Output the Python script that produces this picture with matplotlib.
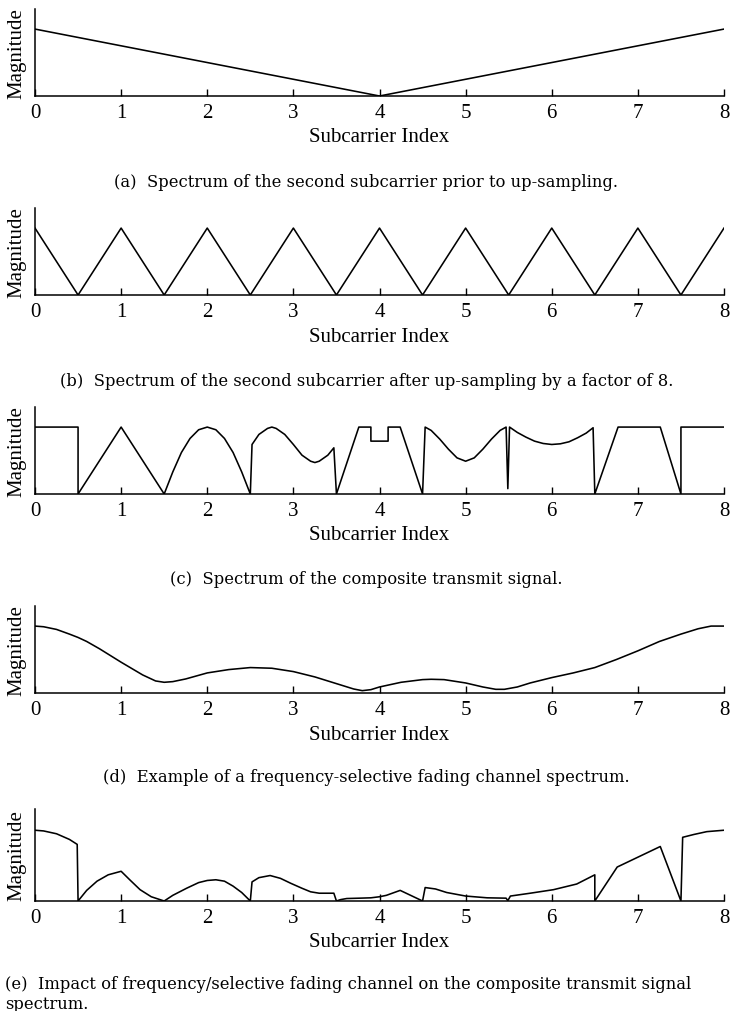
import matplotlib.pyplot as plt

plt.rcParams['font.family'] = ['Liberation Serif', 'DejaVu Serif']

xticks = [0, 1, 2, 3, 4, 5, 6, 7, 8]

# (a) spectrum prior to up-sampling
a_x = [0, 4, 8]
a_y = [1.0, 0.0, 1.0]

# (b) after up-sampling by 8
b_x = [0, 0.5, 1, 1.5, 2, 2.5, 3, 3.5, 4, 4.5, 5, 5.5, 6, 6.5, 7, 7.5, 8]
b_y = [1, 0, 1, 0, 1, 0, 1, 0, 1, 0, 1, 0, 1, 0, 1, 0, 1]

# (c) composite transmit signal
c_x = [0, 0.5, 0.5, 1.0, 1.5,
       1.6, 1.7, 1.8, 1.9, 2.0, 2.1, 2.2, 2.3, 2.4, 2.5,
       2.52, 2.6, 2.7, 2.75, 2.8, 2.9, 3.0, 3.1, 3.2, 3.25, 3.3, 3.4, 3.47, 3.5,
       3.76, 3.9, 3.9, 4.1, 4.1, 4.24, 4.5,
       4.53, 4.6, 4.7, 4.8, 4.9, 5.0, 5.1, 5.2, 5.3, 5.4, 5.47, 5.49, 5.51,
       5.6, 5.7, 5.8, 5.9, 6.0, 6.1, 6.2, 6.3, 6.4, 6.48, 6.5,
       6.77, 7.26, 7.5, 7.5, 8.0]
c_y = [1, 1, 0, 1, 0,
       0.33, 0.62, 0.83, 0.96, 1.0, 0.96, 0.83, 0.62, 0.33, 0,
       0.74, 0.89, 0.98, 1.0, 0.98, 0.89, 0.74, 0.58, 0.49, 0.47, 0.49, 0.58, 0.69, 0,
       1, 1, 0.79, 0.79, 1, 1, 0,
       1, 0.95, 0.82, 0.67, 0.54, 0.49, 0.54, 0.67, 0.82, 0.95, 1.0, 0.08, 1.0,
       0.92, 0.85, 0.79, 0.755, 0.74, 0.75, 0.78, 0.84, 0.91, 0.99, 0,
       1, 1, 0, 1, 1]

# (d) frequency-selective fading channel
d_x = [0.0, 0.1, 0.25, 0.4, 0.5, 0.6, 0.75, 1.0, 1.25, 1.4, 1.5, 1.6, 1.75, 2.0, 2.25,
       2.5, 2.75, 3.0, 3.25, 3.5, 3.7, 3.8, 3.9, 4.0, 4.25, 4.5, 4.6, 4.75, 5.0, 5.2,
       5.35, 5.45, 5.6, 5.75, 6.0, 6.25, 6.5, 6.75, 7.0, 7.25, 7.5, 7.7, 7.85, 8.0]
d_y = [1.00, 0.99, 0.95, 0.88, 0.83, 0.77, 0.66, 0.46, 0.27, 0.18, 0.16, 0.17, 0.21, 0.30,
       0.35, 0.38, 0.37, 0.32, 0.24, 0.14, 0.06, 0.035, 0.05, 0.09, 0.16, 0.20, 0.205,
       0.20, 0.15, 0.09, 0.055, 0.055, 0.09, 0.15, 0.23, 0.30, 0.38, 0.50, 0.63, 0.77,
       0.88, 0.96, 1.0, 1.0]

# (e) composite signal through the channel
e_x = [0, 0.1, 0.25, 0.4, 0.49, 0.5, 0.6, 0.72, 0.85, 1.0, 1.1, 1.22, 1.35, 1.5,
       1.6, 1.76, 1.9, 2.0, 2.1, 2.2, 2.3, 2.4, 2.5,
       2.52, 2.6, 2.73, 2.85, 2.97, 3.1, 3.2, 3.3, 3.47, 3.5,
       3.55, 3.62, 3.77, 3.9, 4.0, 4.08, 4.24, 4.5,
       4.53, 4.65, 4.78, 5.0, 5.25, 5.47, 5.49, 5.52, 5.75, 6.02, 6.29, 6.5, 6.5,
       6.76, 7.26, 7.5, 7.52, 7.65, 7.8, 8.0]
e_y = [1.0, 0.99, 0.95, 0.87, 0.80, 0, 0.15, 0.28, 0.37, 0.42, 0.30, 0.16, 0.06, 0,
       0.08, 0.18, 0.26, 0.29, 0.30, 0.28, 0.21, 0.12, 0,
       0.27, 0.33, 0.36, 0.32, 0.25, 0.18, 0.13, 0.11, 0.11, 0,
       0.02, 0.035, 0.04, 0.045, 0.06, 0.08, 0.15, 0,
       0.19, 0.17, 0.12, 0.07, 0.045, 0.04, 0.005, 0.07, 0.11, 0.16, 0.24, 0.37, 0,
       0.48, 0.77, 0, 0.90, 0.94, 0.98, 1.0]

captions = [
    "(a)  Spectrum of the second subcarrier prior to up-sampling.",
    "(b)  Spectrum of the second subcarrier after up-sampling by a factor of 8.",
    "(c)  Spectrum of the composite transmit signal.",
    "(d)  Example of a frequency-selective fading channel spectrum.",
    "(e)  Impact of frequency/selective fading channel on the composite transmit signal\nspectrum.",
]

W, H = 733, 1012
fig = plt.figure(figsize=(W / 100, H / 100), dpi=100)

panels = [(a_x, a_y), (b_x, b_y), (c_x, c_y), (d_x, d_y), (e_x, e_y)]
tops = [10, 209, 408, 607, 810]
heights = [87, 87, 87, 87, 92]
cap_y = [183, 382, 579, 778, 985]

for i, (xs, ys) in enumerate(panels):
    top, ax_h = tops[i], heights[i]
    ax = fig.add_axes([35 / W, 1 - (top + ax_h) / H, 689 / W, ax_h / H])
    ax.plot(xs, ys, color='black', lw=1.15)
    ax.set_xlim(0, 8)
    ax.set_ylim(0, 1.3)
    ax.set_xticks(xticks)
    ax.set_yticks([])
    ax.tick_params(axis='x', direction='in', length=5, width=1, pad=5, labelsize=15)
    ax.spines[['top', 'right']].set_visible(False)
    ax.spines[['left', 'bottom']].set_linewidth(1.1)
    ax.set_xlabel('Subcarrier Index', fontsize=15, labelpad=4)
    ax.set_ylabel('Magnitude', fontsize=15, labelpad=6)

    if i < 4:
        fig.text(0.5, 1 - cap_y[i] / H, captions[i], ha='center', va='center',
                 fontsize=11.8, family='DejaVu Serif')
    else:
        fig.text(5 / W, 1 - (cap_y[i] - 9) / H, captions[i], ha='left', va='top',
                 fontsize=11.8, family='DejaVu Serif', linespacing=1.25)

fig.savefig('out.png', dpi=100)
